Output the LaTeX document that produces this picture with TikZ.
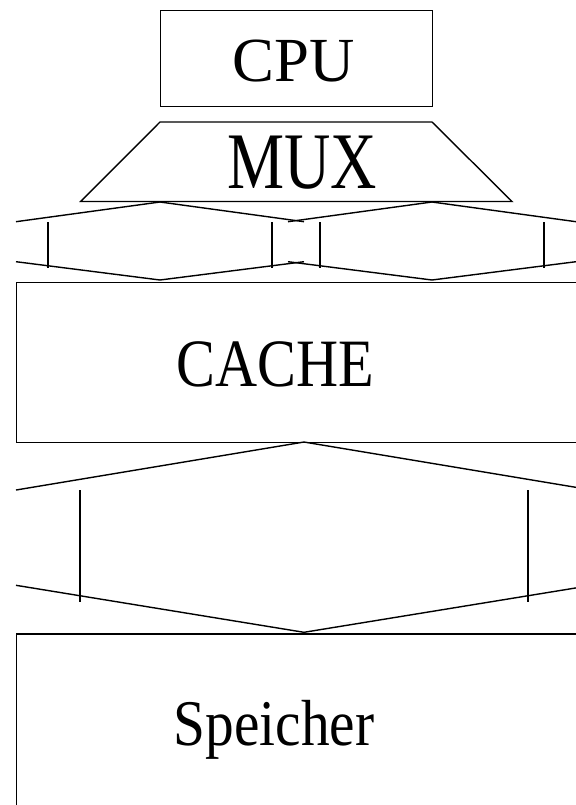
\documentclass[tikz,border=0pt]{standalone}
\usepackage{fontspec}
\usepackage{graphicx}
\setmainfont{Liberation Serif}
\begin{document}
\begin{tikzpicture}[x=1bp,y=-1bp,line width=1.4bp,
  unitbox/.style={draw,rectangle,inner sep=0pt,anchor=north west},
  lbl/.style={inner sep=0pt,anchor=base}]
\useasboundingbox (0,0) rectangle (576,805);
\clip (0,0) rectangle (576,805);

% processor
\node[unitbox,minimum width=272.5bp,minimum height=96bp] (cpu) at (159.5,10) {};
\node[lbl,font=\fontsize{63}{63}\selectfont] (cputext) at (293.5,81.7) {CPU};

% multiplexer (trapezoid)
\coordinate (mtl) at (160,122);
\coordinate (mtr) at (432,122);
\coordinate (mbr) at (512,201.5);
\coordinate (mbl) at (80.7,201.5);
\draw (mtl) -- (mtr) -- (mbr) -- (mbl) -- cycle;
\node[lbl,font=\fontsize{80.5}{80.5}\selectfont] (muxtext) at (302,188.3) {\scalebox{0.8}[1]{MUX}};

% two buses between multiplexer and cache
\foreach \c/\n in {160/left,432/right}{
  \draw (\c-144,221.7) -- (\c,202) -- (\c+144,221.7);
  \draw (\c-144,261.7) -- (\c,280) -- (\c+144,261.7);
  \draw (\c-112,222) -- (\c-112,267.7);
  \draw (\c+112,222) -- (\c+112,267.7);
}

% cache
\node[unitbox,minimum width=590bp,minimum height=159.7bp] (cache) at (16,282) {};
\node[lbl,font=\fontsize{68}{68}\selectfont] (cachetext) at (275.5,386.7) {\scalebox{0.86}[1]{CACHE}};

% bus between cache and memory
\draw (16,490) -- (304,442) -- (592,490);
\draw (16,585.3) -- (304,632.3) -- (592,585.3);
\draw (80,490) -- (80,601.7);
\draw (528,490) -- (528,601.7);

% memory
\node[unitbox,minimum width=590bp,minimum height=200bp] (mem) at (16,633.3) {};
\node[lbl,font=\fontsize{65.4}{65.4}\selectfont] (memtext) at (274,745) {\scalebox{0.88}[1]{Speicher}};
\end{tikzpicture}
\end{document}
